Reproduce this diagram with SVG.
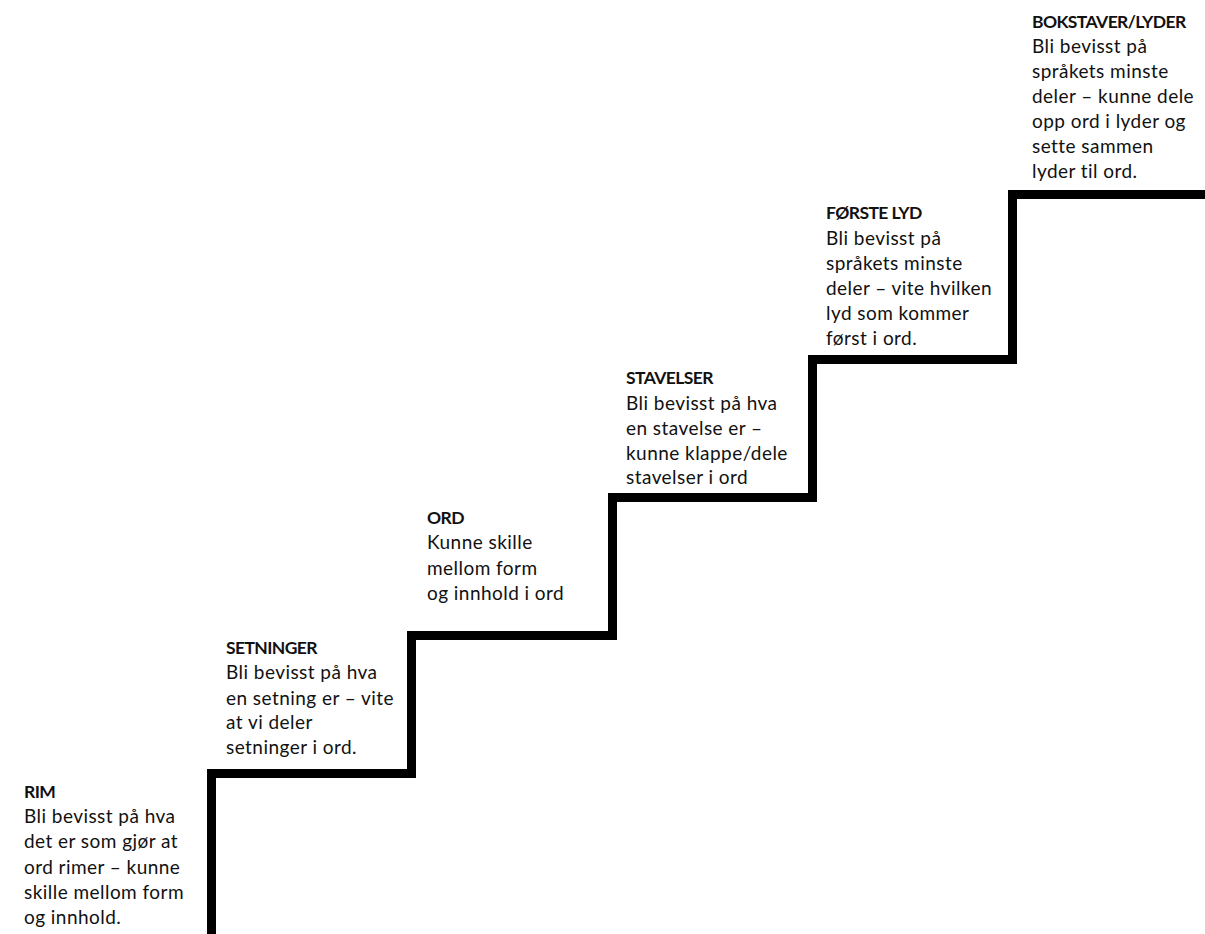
<svg xmlns="http://www.w3.org/2000/svg" width="1205" height="934" viewBox="0 0 1205 934">
<style>
text{font-family:Lato,"Open Sans","Liberation Sans",sans-serif;font-size:19px;letter-spacing:0.45px;fill:#111}
.t{font-weight:bold;font-size:17.5px;letter-spacing:-0.6px}
.stair{fill:none;stroke:#000;stroke-width:9;stroke-linejoin:miter}
</style>
<rect width="1205" height="934" fill="#fff"/>
<g id="connectors">
<path class="stair" d="M211.5,934 V773.5 H411.5 V635.5 H612.5 V497.5 H812.5 V359.5 H1012.5 V194.5 H1205"/>
</g>
<g id="rim">
<text x="24" y="798" class="t">RIM</text>
<text x="24" y="823">Bli bevisst på hva</text>
<text x="24" y="848">det er som gjør at</text>
<text x="24" y="874">ord rimer – kunne</text>
<text x="24" y="899">skille mellom form</text>
<text x="24" y="924">og innhold.</text>
</g>
<g id="setninger">
<text x="226" y="654" class="t">SETNINGER</text>
<text x="226" y="679">Bli bevisst på hva</text>
<text x="226" y="705">en setning er – vite</text>
<text x="226" y="729">at vi deler</text>
<text x="226" y="754">setninger i ord.</text>
</g>
<g id="ord">
<text x="427" y="524" class="t">ORD</text>
<text x="427" y="549">Kunne skille</text>
<text x="427" y="575">mellom form</text>
<text x="427" y="600">og innhold i ord</text>
</g>
<g id="stavelser">
<text x="626" y="384" class="t">STAVELSER</text>
<text x="626" y="410">Bli bevisst på hva</text>
<text x="626" y="435">en stavelse er –</text>
<text x="626" y="460">kunne klappe/dele</text>
<text x="626" y="484">stavelser i ord</text>
</g>
<g id="forste-lyd">
<text x="826" y="219" class="t">FØRSTE LYD</text>
<text x="826" y="245">Bli bevisst på</text>
<text x="826" y="270">språkets minste</text>
<text x="826" y="295">deler – vite hvilken</text>
<text x="826" y="320">lyd som kommer</text>
<text x="826" y="345">først i ord.</text>
</g>
<g id="bokstaver-lyder">
<text x="1032" y="28" class="t">BOKSTAVER/LYDER</text>
<text x="1032" y="53">Bli bevisst på</text>
<text x="1032" y="78">språkets minste</text>
<text x="1032" y="103">deler – kunne dele</text>
<text x="1032" y="128">opp ord i lyder og</text>
<text x="1032" y="153">sette sammen</text>
<text x="1032" y="178">lyder til ord.</text>
</g>
</svg>
